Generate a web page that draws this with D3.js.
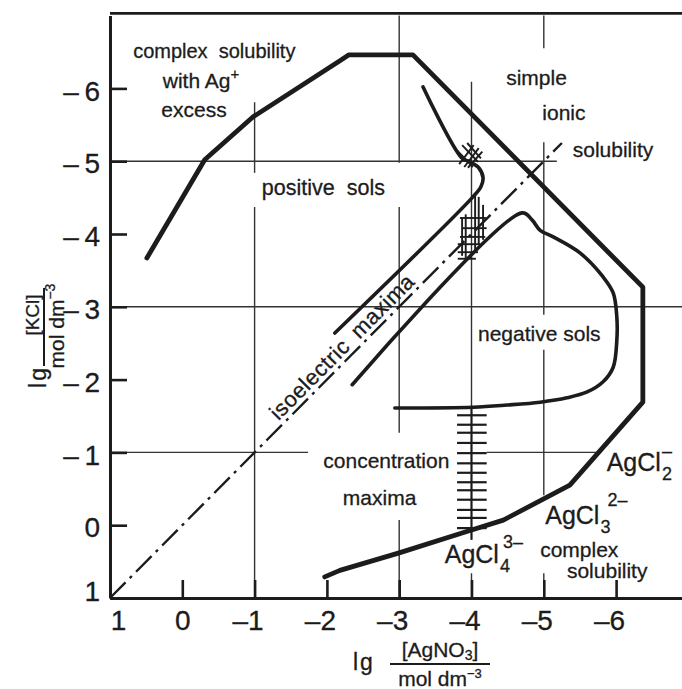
<!DOCTYPE html>
<html><head><meta charset="utf-8">
<script src="https://cdn.jsdelivr.net/npm/d3@7"></script>
<style>
html,body{margin:0;padding:0;background:#fff;}
svg{display:block;}
text{font-family:"Liberation Sans",Arial,sans-serif;fill:#1c1c1c;stroke:#1c1c1c;stroke-width:0.3px;}
</style></head><body>
<svg id="chart" width="682" height="689"></svg>
<script>
// ---------------- data ----------------
const xTickValues = [1, 0, -1, -2, -3, -4, -5, -6];
const yTickValues = [1, 0, -1, -2, -3, -4, -5, -6];

// thick outer curve: solubility limit
const solubilityLimit = [[0.49,-3.67],[-0.31,-5.02],[-0.98,-5.61],[-2.18,-6.38],[-2.30,-6.46],[-3.19,-6.46],
  [-6.37,-3.27],[-6.37,-1.69],[-5.36,-0.55],[-4.44,-0.07],[-3.99,0.07],[-3.00,0.38],[-2.18,0.62],[-1.97,0.71]];
// boundary of positive sols
const positiveSolBoundary = [[-2.11,-2.64],[-4.02,-4.51],[-4.13,-4.65],[-4.16,-4.77],[-4.10,-4.91],[-3.98,-4.99],[-3.87,-5.04],[-3.33,-6.02]];
// boundary of negative sols
const negativeSolBoundary = [[-2.35,-1.93],[-4.70,-4.29],[-4.84,-4.19],[-4.95,-4.05],[-5.13,-3.96],[-5.50,-3.74],[-5.82,-3.41],
  [-5.96,-3.19],[-6.01,-2.86],[-6.01,-2.54],[-5.96,-2.17],[-5.82,-1.97],[-5.60,-1.83],[-5.32,-1.75],[-4.95,-1.69],
  [-4.49,-1.65],[-4.02,-1.62],[-2.94,-1.61]];
// isoelectric line
const isoelectricLine = [[1,1],[-5.25,-5.25]];
// hatching (x1,y1,x2,y2)
const knotHatch = [[-3.83,-4.96,-4.03,-5.22],[-3.90,-4.92,-4.10,-5.18],[-3.95,-4.91,-4.15,-5.13],
  [-3.80,-5.15,-4.02,-4.92],[-3.87,-5.22,-4.09,-4.99],[-3.94,-5.25,-4.13,-5.04]];
// vertical hatch (x, y1, y2)
const bandHatchV = [[-4.05,-4.56,-3.78],[-4.10,-4.51,-3.85],[-4.16,-4.40,-3.92],[-3.87,-4.22,-3.70],[-3.92,-4.27,-3.62]];
// horizontal hatch (y, x1, x2)
const bandHatchH = [[-4.22,-3.84,-4.20],[-4.08,-3.87,-4.21],[-3.96,-3.84,-4.19],[-3.86,-3.81,-4.12],[-3.75,-3.81,-4.09],[-3.66,-3.81,-4.06]];
// concentration maxima marks along lg[AgNO3] = -4
const maximaMarks = [-1.51,-1.38,-1.27,-1.13,-0.99,-0.85,-0.72,-0.59,-0.48,-0.35,-0.21,-0.10,0.04];
const maximaMarkX = [-3.80, -4.21];
const maximaMarkLine = -4;
// grid segments: vertical (x, y1, y2), horizontal (y, x1, x2)
const vGrid = [[-1,-5.81,-4.84],[-1,-4.37,1],[-3,-7,-4.98],[-3,-4.37,-1.27],[-3,-0.07,1],[-4,-6.09,0.2],[-4,0.66,1],
  [-5,-7,-6.55],[-5,-5.26,-2.89],[-5,-2.41,-0.41],[-5,0.66,1]];
const hGrid = [[-5,1,-5.18],[-3,1,-7],[-1,1,-1.74],[-1,-4.21,-5.78]];

// ---------------- layout ----------------
const svg = d3.select("#chart");
svg.append("rect").attr("width",682).attr("height",689).attr("fill","#fff");
const x = d3.scaleLinear().domain([1,-7]).range([110, 110 + 8*72.3]);
const y = d3.scaleLinear().domain([1,-7]).range([598, 598 - 8*72.8]);
const ink = "#1c1c1c";

// grid
const grid = svg.append("g").attr("stroke", "#333").attr("stroke-width", 1.4);
grid.selectAll("line.v").data(vGrid).join("line")
  .attr("x1", d => x(d[0])).attr("x2", d => x(d[0])).attr("y1", d => y(d[1])).attr("y2", d => y(d[2]));
grid.selectAll("line.h").data(hGrid).join("line")
  .attr("y1", d => y(d[0])).attr("y2", d => y(d[0])).attr("x1", d => x(d[1])).attr("x2", d => x(d[2]));

// axes
const fmt = d => d < 0 ? "\u2013" + (-d) : String(d);
const gx = svg.append("g").attr("transform", `translate(0,${y(1)})`)
  .call(d3.axisBottom(x).tickValues(xTickValues).tickSize(-18).tickSizeOuter(0).tickPadding(12).tickFormat(fmt));
const gy = svg.append("g").attr("transform", `translate(${x(1)},0)`)
  .call(d3.axisLeft(y).tickValues(yTickValues).tickSize(-17).tickSizeOuter(0).tickPadding(10)
    .tickFormat(d => d < 0 ? "\u2013\u2009" + (-d) : String(d)));
[gx, gy].forEach(g => {
  g.select(".domain").attr("stroke", ink).attr("stroke-width", 3);
  g.selectAll(".tick line").attr("stroke", ink).attr("stroke-width", 2.6);
  g.selectAll(".tick text").style("font-size", "28px").attr("fill", ink)
    .style("font-family", '"Liberation Sans",Arial,sans-serif');
});
gx.selectAll(".tick text").attr("dx", d => d === 1 ? 8 : (d < 0 ? -7 : 0));
gy.selectAll(".tick text").attr("dy", d => d === 1 ? "0.1em" : "0.42em");
// top frame
svg.append("line").attr("x1", x(1)).attr("x2", 682).attr("y1", y(-7.03)).attr("y2", y(-7.03))
  .attr("stroke", ink).attr("stroke-width", 2.6);

// curves
const line = d3.line().x(d => x(d[0])).y(d => y(d[1]));
svg.append("path").datum(isoelectricLine).attr("d", line).attr("fill","none").attr("stroke", ink)
  .attr("stroke-width", 2.4).attr("stroke-dasharray", "22,6,3,6");
svg.append("path").datum(solubilityLimit).attr("d", line).attr("fill","none").attr("stroke", ink)
  .attr("stroke-width", 4.8).attr("stroke-linejoin","round").attr("stroke-linecap","round");
const smooth = d3.line().x(d => x(d[0])).y(d => y(d[1])).curve(d3.curveCatmullRom.alpha(0.5));
[positiveSolBoundary, negativeSolBoundary].forEach(pts => {
  svg.append("path").datum(pts).attr("d", smooth).attr("fill","none").attr("stroke", ink)
    .attr("stroke-width", 3.6).attr("stroke-linecap","round");
});

// hatching
const hatch = svg.append("g").attr("stroke", ink).attr("stroke-width", 1.9);
hatch.selectAll("line.k").data(knotHatch).join("line")
  .attr("x1", d => x(d[0])).attr("y1", d => y(d[1])).attr("x2", d => x(d[2])).attr("y2", d => y(d[3]));
hatch.selectAll("line.bv").data(bandHatchV).join("line")
  .attr("x1", d => x(d[0])).attr("x2", d => x(d[0])).attr("y1", d => y(d[1])).attr("y2", d => y(d[2]));
hatch.selectAll("line.bh").data(bandHatchH).join("line")
  .attr("y1", d => y(d[0])).attr("y2", d => y(d[0])).attr("x1", d => x(d[1])).attr("x2", d => x(d[2]));
hatch.selectAll("line.m").data(maximaMarks).join("line")
  .attr("y1", d => y(d)).attr("y2", d => y(d)).attr("x1", x(maximaMarkX[0])).attr("x2", x(maximaMarkX[1]))
  .attr("stroke-width", 2.2);
hatch.append("line").attr("x1", x(maximaMarkLine)).attr("x2", x(maximaMarkLine))
  .attr("y1", y(-1.62)).attr("y2", y(0.2)).attr("stroke-width", 2);

// ---------------- labels ----------------
const labels = [
  ["complex  solubility", 0.68, -6.42, 20],
  ["excess", 0.29, -5.61, 21],
  ["positive  sols", -1.10, -4.54, 21.5],
  ["simple", -4.48, -6.05, 21],
  ["ionic", -4.98, -5.57, 21],
  ["solubility", -5.40, -5.06, 21],
  ["negative sols", -4.09, -2.53, 21],
  ["concentration", -1.95, -0.79, 21],
  ["maxima", -2.22, -0.28, 21],
  ["complex", -4.95, 0.43, 21],
  ["solubility", -5.32, 0.72, 21]
];
svg.selectAll("text.lab").data(labels).join("text").attr("class","lab")
  .attr("x", d => x(d[1])).attr("y", d => y(d[2])).style("font-size", d => d[3] + "px").style("white-space","pre")
  .text(d => d[0]);
const wa = svg.append("text").attr("x", x(0.27)).attr("y", y(-6.01)).style("font-size","21px").text("with Ag");
wa.append("tspan").attr("dy", -9).style("font-size","15px").text("+");

function chem(vx, vy, sub, sup, supDx, supDy) {
  const x0 = x(vx), y0 = y(vy);
  const t = svg.append("text").attr("x", x0).attr("y", y0).style("font-size","25px").text("AgCl");
  const w = t.node().getComputedTextLength();
  svg.append("text").attr("x", x0 + w + 1).attr("y", y0 + 9).style("font-size","18px").text(sub);
  svg.append("text").attr("x", x0 + w + 1 + supDx).attr("y", y0 + supDy).style("font-size","18px").text(sup);
}
chem(-5.87, -0.74, "2", "\u2013", 0, -14);
chem(-5.02, -0.02, "3", "2\u2013", 7, -18);
chem(-3.63, 0.52, "4", "3\u2013", 3, -15);

// rotated labels along the isoelectric line
const ang = Math.atan2(y(-2) - y(-1), x(-2) - x(-1)) * 180 / Math.PI;
[["isoelectric", -1.38], ["maxima", -2.50]].forEach(([s, v]) => {
  svg.append("text").attr("transform", `translate(${x(v)},${y(v)}) rotate(${ang})`)
    .attr("dy", -5).style("font-size","22px").style("letter-spacing","0.5px").text(s);
});

// axis titles
// x
svg.append("text").attr("x", 353).attr("y", 670).style("font-size","23px").style("letter-spacing","2px").text("lg");
const xn = svg.append("text").attr("x", 440).attr("y", 657).attr("text-anchor","middle").style("font-size","21px");
xn.append("tspan").text("[AgNO");
xn.append("tspan").attr("dy", 3).style("font-size","14px").text("3");
xn.append("tspan").attr("dy", -3).text("]");
svg.append("line").attr("x1", 390).attr("x2", 490).attr("y1", 664).attr("y2", 664).attr("stroke", ink).attr("stroke-width", 2);
const xd = svg.append("text").attr("x", 440).attr("y", 686).attr("text-anchor","middle").style("font-size","21px");
xd.append("tspan").text("mol dm");
xd.append("tspan").attr("dy", -8).style("font-size","13px").text("\u22123");
// y
svg.append("text").attr("transform","translate(46,377) rotate(-90)").attr("text-anchor","middle")
  .style("font-size","23px").style("letter-spacing","2px").text("lg");
const yn = svg.append("text").attr("transform","translate(39,315) rotate(-90)").attr("text-anchor","middle").style("font-size","19px");
yn.text("[KCl]");
svg.append("line").attr("x1", 44).attr("x2", 44).attr("y1", 288).attr("y2", 366).attr("stroke", ink).attr("stroke-width", 2);
const yd = svg.append("text").attr("transform","translate(64,326) rotate(-90)").attr("text-anchor","middle").style("font-size","21px");
yd.append("tspan").text("mol dm");
yd.append("tspan").attr("dy", -9).style("font-size","14px").text("\u22123");
</script>
</body></html>
